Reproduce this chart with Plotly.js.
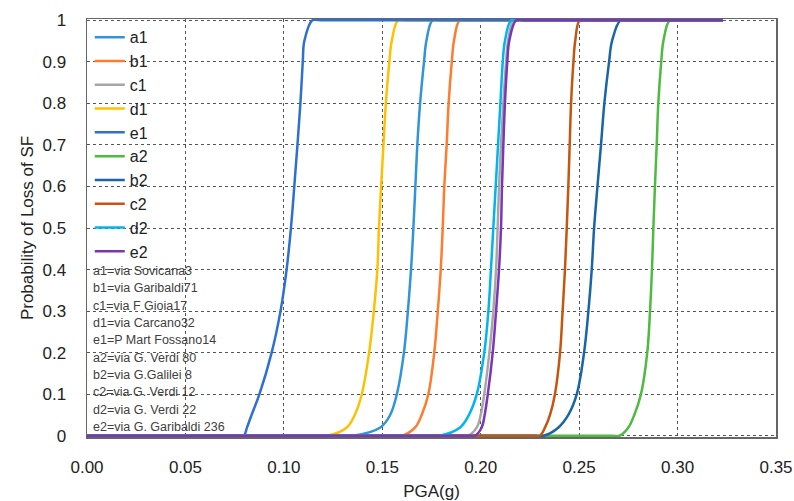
<!DOCTYPE html>
<html><head><meta charset="utf-8">
<script src="https://cdn.plot.ly/plotly-3.0.1.min.js"></script>
<style>html,body{margin:0;padding:0;background:#fff}#chart{width:794px;height:501px}</style>
</head><body><div id="chart"></div>
<script>
// probability levels shared by all curves
var probLevels = [0, 0, 0, 0.02, 0.05, 0.1, 0.2, 0.3, 0.4, 0.5, 0.6, 0.7, 0.8, 0.9, 0.95, 1, 1, 1];
// PGA(g) read at each probability level for each curve
var seriesNames = ['a1','b1','c1','d1','e1','a2','b2','c2','d2','e2'];
var pga_a1 = [0, 0.131, 0.135, 0.149, 0.154, 0.1574, 0.161, 0.163, 0.1646, 0.1658, 0.1668, 0.1678, 0.1692, 0.1712, 0.1724, 0.1755, 0.1795, 0.323];
var pga_b1 = [0, 0.156, 0.160, 0.1667, 0.170, 0.1734, 0.1764, 0.1782, 0.1797, 0.1807, 0.1815, 0.1827, 0.1837, 0.1853, 0.1864, 0.1893, 0.1933, 0.323];
var pga_c1 = [0, 0.1895, 0.1935, 0.198, 0.2000, 0.2018, 0.2044, 0.2064, 0.2078, 0.2086, 0.2093, 0.2103, 0.2115, 0.2129, 0.2139, 0.2168, 0.2208, 0.323];
var pga_d1 = [0, 0.118, 0.122, 0.132, 0.136, 0.1396, 0.1433, 0.1457, 0.1475, 0.1483, 0.1494, 0.1506, 0.1518, 0.1536, 0.1548, 0.158, 0.162, 0.323];
var pga_e1 = [0, 0.0790, 0.0798, 0.0813, 0.0836, 0.0876, 0.0938, 0.0983, 0.1014, 0.1036, 0.1053, 0.1069, 0.1084, 0.1096, 0.1104, 0.1145, 0.1185, 0.323];
var pga_a2 = [0, 0.2665, 0.2705, 0.275, 0.278, 0.2814, 0.2846, 0.286, 0.287, 0.2877, 0.2885, 0.2894, 0.2902, 0.2917, 0.2928, 0.296, 0.300, 0.323];
var pga_b2 = [0, 0.228, 0.232, 0.2395, 0.2445, 0.2488, 0.2525, 0.2547, 0.2564, 0.2576, 0.2593, 0.2611, 0.2628, 0.2652, 0.2667, 0.271, 0.275, 0.323];
var pga_c2 = [0, 0.226, 0.2300, 0.2327, 0.2352, 0.2377, 0.2403, 0.2416, 0.2428, 0.2437, 0.2445, 0.2452, 0.2459, 0.2471, 0.2480, 0.2503, 0.2543, 0.323];
var pga_d2 = [0, 0.175, 0.179, 0.1895, 0.1940, 0.198, 0.2018, 0.2039, 0.2052, 0.2064, 0.2076, 0.2088, 0.21, 0.2112, 0.2123, 0.2155, 0.2195, 0.323];
var pga_e2 = [0, 0.193, 0.197, 0.2005, 0.2020, 0.2036, 0.2061, 0.2078, 0.2093, 0.2103, 0.2108, 0.2115, 0.2123, 0.2135, 0.2145, 0.218, 0.222, 0.323];
var seriesColors = ['#2F95D8','#FF7B2E','#A6A6A6','#FFC000','#2D6FD2','#4CBB3F','#1865A8','#C5560F','#00B4EE','#7B35B5'];
var addressNotes = ['a1=via Sovicana3','b1=via Garibaldi71','c1=via F Gioia17','d1=via Carcano32','e1=P Mart Fossano14',
  'a2=via G. Verdi 80','b2=via G.Galilei 8','c2=via G. Verdi 12','d2=via G. Verdi 22','e2=via G. Garibaldi 236'];
var xTicks = [0, 0.05, 0.10, 0.15, 0.20, 0.25, 0.30, 0.35];
var yTicks = [0, 0.1, 0.2, 0.3, 0.4, 0.5, 0.6, 0.7, 0.8, 0.9, 1];

var allPga = [pga_a1,pga_b1,pga_c1,pga_d1,pga_e1,pga_a2,pga_b2,pga_c2,pga_d2,pga_e2];
var traces = seriesNames.map(function(n,i){
  return {x: allPga[i], y: probLevels, name: n, type:'scatter', mode:'lines',
    line:{color: seriesColors[i], width:2.5, shape:'spline', smoothing:1}};
});

var FONT = 'Liberation Sans, Arial, sans-serif';
var plotTop = 20, plotBottom = 436;
var ann = addressNotes.map(function(t,i){
  var py = 271 + i*17.35;
  return {xref:'paper', yref:'y', x:0.006, y:(plotBottom-py)/(plotBottom-plotTop),
    xanchor:'left', yanchor:'middle', text:t, showarrow:false,
    font:{family:FONT, size:12.5, color:'#404040'}};
});
var pad = 0.003;

var layout = {
  width:794, height:501,
  margin:{l:87, r:18, t:19, b:64},
  paper_bgcolor:'#fff', plot_bgcolor:'#fff',
  showlegend:true,
  legend:{x:0.004, y:0.997, xanchor:'left', yanchor:'top', bgcolor:'rgba(0,0,0,0)',
    font:{family:FONT, size:16, color:'#222'},
    tracegroupgap:0, itemwidth:30},
  xaxis:{range:[0,0.35], tickvals:xTicks, tickformat:'.2f', showgrid:true,
    gridcolor:'#555', griddash:'dot', gridwidth:1, zeroline:false,
    showline:true, linecolor:'#666', linewidth:1.5, mirror:true, layer:'below traces',
    ticks:'outside', ticklen:14, tickcolor:'rgba(0,0,0,0)',
    tickfont:{family:FONT, size:17, color:'#222'},
    title:{text:'PGA(g)', font:{family:FONT, size:17, color:'#222'}, standoff:10}},
  yaxis:{range:[-pad,1+pad], tickvals:yTicks, showgrid:true, gridcolor:'#555', griddash:'dot', gridwidth:1,
    zeroline:false, showline:true, linecolor:'#666', linewidth:1.5, mirror:true, layer:'below traces',
    ticks:'outside', ticklen:16, tickcolor:'rgba(0,0,0,0)',
    tickfont:{family:FONT, size:17, color:'#222'},
    title:{text:'Probability of Loss of SF', font:{family:FONT, size:17, color:'#222'}, standoff:4}},
  annotations: ann
};
Plotly.newPlot('chart', traces, layout, {staticPlot:true, displayModeBar:false});
</script></body></html>
